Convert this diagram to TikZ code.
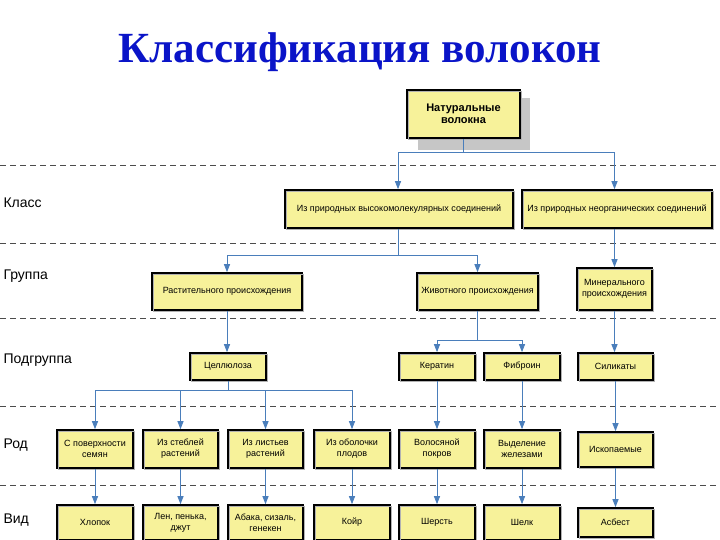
\documentclass[tikz,border=0pt]{standalone}
\usepackage{fontspec}
\setmainfont{Liberation Sans}
\newfontfamily\titlefont{Liberation Serif}
\usetikzlibrary{arrows.meta}
\definecolor{boxy}{HTML}{F7F29A}
\definecolor{lineb}{HTML}{4A7EBB}
\definecolor{titleb}{HTML}{0A14C8}
\tikzset{
 bx/.style={draw=black,line width=1.6pt,fill=boxy,align=center,font=\fontsize{9}{11}\selectfont,inner sep=1pt,
   postaction={draw=gray!60,line width=1.2pt,transform canvas={xshift=1.5pt,yshift=-1.5pt}}},
 con/.style={draw=lineb,line width=0.9pt},
 arr/.style={con,-{Triangle[width=6pt,length=8pt]}},
 lvl/.style={anchor=west,font=\fontsize{14}{16}\selectfont},
 dl/.style={dashed,line width=0.8pt,draw=black!70,dash pattern=on 6pt off 4pt}
}
\newcommand{\bxat}[6]{\node[bx,minimum width=#3-#2,minimum height=#5-#4] (#1) at ({(#2+#3)/2},{(#4+#5)/2}) {#6};}
\begin{document}
\begin{tikzpicture}[x=1pt,y=-1pt]
\useasboundingbox (0,0) rectangle (720,540);
\node[font=\titlefont\bfseries\fontsize{43}{47}\selectfont,text=titleb] (title) at (360,52) {Классификация волокон};
\foreach \y in {165,243,318,406,485} \draw[dl] (0,\y) -- (720,\y);
\node[lvl] (l1) at (0,203) {Класс};
\node[lvl] (l2) at (0,276) {Группа};
\node[lvl] (l3) at (0,360) {Подгруппа};
\node[lvl] (l4) at (0,445) {Род};
\node[lvl] (l5) at (0,520) {Вид};
\fill[gray!45] (418,98) rectangle (530,150);
\bxat{nat}{407}{520}{90}{138}{\fontsize{11}{13}\selectfont\bfseries Натуральные\\[1pt]\fontsize{11}{13}\selectfont\bfseries волокна}
\bxat{c1}{285}{513}{190}{228}{Из природных высокомолекулярных соединений}
\bxat{c2}{522}{712}{190}{228}{Из природных неорганических соединений}
\bxat{g1}{152}{302}{273}{310}{Растительного происхождения}
\bxat{g2}{417}{538}{273}{310}{Животного происхождения}
\bxat{g3}{577}{652}{268}{310}{Минерального\\происхождения}
\bxat{s1}{190}{266}{353}{380}{Целлюлоза}
\bxat{s2}{399}{475}{353}{380}{Кератин}
\bxat{s3}{484}{560}{353}{380}{Фиброин}
\bxat{s4}{578}{653}{353}{380}{Силикаты}
\bxat{r1}{57}{133}{430}{468}{С поверхности\\семян}
\bxat{r2}{143}{218}{430}{468}{Из стеблей\\растений}
\bxat{r3}{228}{303}{430}{468}{Из листьев\\растений}
\bxat{r4}{314}{390}{430}{468}{Из оболочки\\плодов}
\bxat{r5}{399}{475}{430}{468}{Волосяной\\покров}
\bxat{r6}{484}{560}{430}{468}{Выделение\\железами}
\bxat{r7}{578}{653}{432}{467}{Ископаемые}
\bxat{v1}{57}{133}{505}{540}{Хлопок}
\bxat{v2}{143}{218}{505}{540}{Лен, пенька,\\джут}
\bxat{v3}{228}{303}{505}{540}{Абака, сизаль,\\генекен}
\bxat{v4}{314}{390}{505}{540}{Койр}
\bxat{v5}{399}{475}{505}{540}{Шерсть}
\bxat{v6}{484}{560}{505}{540}{Шелк}
\bxat{v7}{578}{653}{508}{537}{Асбест}
% connectors
\draw[con] (nat.south) -- ++(0,14) coordinate (j0);
\draw[arr] (j0) -| (c1.north -| 398,0);
\draw[arr] (j0) -| (c2.north -| g3.north);
\draw[con] (c1.south -| 398,0) -- (398,255) coordinate (j1);
\draw[arr] (j1) -| (g1.north);
\draw[arr] (j1) -| (g2.north);
\draw[arr] (c2.south -| g3.north) -- (g3.north);
\draw[arr] (g1.south) -- (g1.south |- s1.north);
\draw[con] (g2.south) -- ++(0,30) coordinate (j2);
\draw[arr] (j2) -| (s2.north);
\draw[arr] (j2) -| (s3.north);
\draw[arr] (g3.south) -- (g3.south |- s4.north);
\draw[con] (s1.south) -- ++(0,10) coordinate (j3);
\foreach \r in {r1,r2,r3,r4} \draw[arr] (j3) -| (\r.north);
\draw[arr] (s2.south) -- (r5.north);
\draw[arr] (s3.south) -- (r6.north);
\draw[arr] (s4.south) -- (r7.north);
\foreach \i in {1,...,7} \draw[arr] (r\i.south) -- (v\i.north);
\end{tikzpicture}
\end{document}
